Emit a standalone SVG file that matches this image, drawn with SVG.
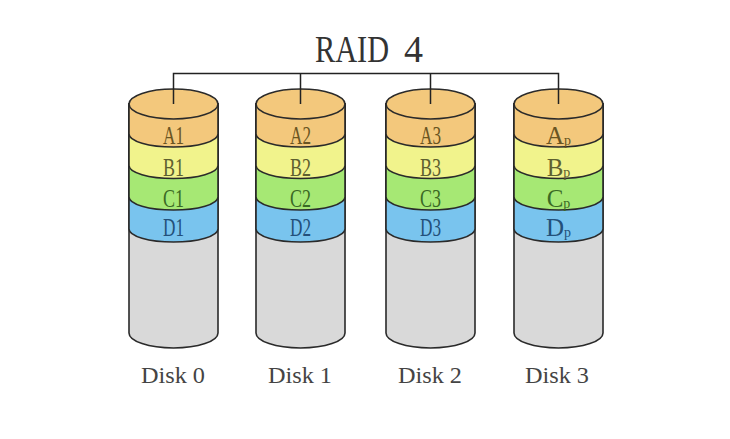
<svg xmlns="http://www.w3.org/2000/svg" width="730" height="439" viewBox="0 0 730 439">
<style>
.edge{fill:none;stroke:#222;stroke-width:1.5}
.sh{stroke:#2a2a2a;stroke-width:1.6;stroke-linejoin:round}
.g{fill:#d9d9d9}.b{fill:#79c4ee}.gr{fill:#a6e874}.y{fill:#f1f38c}.o{fill:#f3c87c}
.lb{font-family:"Liberation Serif","Times New Roman",serif;font-size:25px;text-anchor:middle}
.ta{fill:#6a5522}.tb{fill:#5e6030}.tc{fill:#3b6a24}.td{fill:#23507a}
.dl{font-family:"Liberation Serif","Times New Roman",serif;font-size:24px;fill:#444;text-anchor:middle}
.title{font-family:"Liberation Serif","Times New Roman",serif;font-size:37px;fill:#333}
</style>
<defs>
<g id="cyl">
<path class="sh g" d="M-44.5,104 L-44.5,333 A44.5 15 0 0 0 44.5,333 L44.5,104 Z"/>
<path class="sh b" d="M-44.5,104 L-44.5,229 A44.5 13 0 0 0 44.5,229 L44.5,104 Z"/>
<path class="sh gr" d="M-44.5,104 L-44.5,197 A44.5 13 0 0 0 44.5,197 L44.5,104 Z"/>
<path class="sh y" d="M-44.5,104 L-44.5,165.5 A44.5 13 0 0 0 44.5,165.5 L44.5,104 Z"/>
<path class="sh o" d="M-44.5,104 L-44.5,134 A44.5 13 0 0 0 44.5,134 L44.5,104 Z"/>
<ellipse class="sh o" cx="0" cy="104" rx="44.5" ry="15"/>
</g>
</defs>
<rect width="730" height="439" fill="#fff"/>
<text class="title" y="62"><tspan x="315" textLength="74" lengthAdjust="spacingAndGlyphs">RAID</tspan><tspan x="404" textLength="19" lengthAdjust="spacingAndGlyphs">4</tspan></text>
<g id="disk0">
<use href="#cyl" x="173.5"/>
<text class="lb ta" x="173.5" y="144" textLength="21" lengthAdjust="spacingAndGlyphs">A1</text>
<text class="lb tb" x="173.5" y="176" textLength="21" lengthAdjust="spacingAndGlyphs">B1</text>
<text class="lb tc" x="173.5" y="207" textLength="21" lengthAdjust="spacingAndGlyphs">C1</text>
<text class="lb td" x="173.5" y="236" textLength="21" lengthAdjust="spacingAndGlyphs">D1</text>
<text class="dl" x="173" y="383" textLength="64" lengthAdjust="spacingAndGlyphs">Disk 0</text>
</g>
<g id="disk1">
<use href="#cyl" x="300.5"/>
<text class="lb ta" x="300.5" y="144" textLength="21" lengthAdjust="spacingAndGlyphs">A2</text>
<text class="lb tb" x="300.5" y="176" textLength="21" lengthAdjust="spacingAndGlyphs">B2</text>
<text class="lb tc" x="300.5" y="207" textLength="21" lengthAdjust="spacingAndGlyphs">C2</text>
<text class="lb td" x="300.5" y="236" textLength="21" lengthAdjust="spacingAndGlyphs">D2</text>
<text class="dl" x="300" y="383" textLength="64" lengthAdjust="spacingAndGlyphs">Disk 1</text>
</g>
<g id="disk2">
<use href="#cyl" x="430.5"/>
<text class="lb ta" x="430.5" y="144" textLength="21" lengthAdjust="spacingAndGlyphs">A3</text>
<text class="lb tb" x="430.5" y="176" textLength="21" lengthAdjust="spacingAndGlyphs">B3</text>
<text class="lb tc" x="430.5" y="207" textLength="21" lengthAdjust="spacingAndGlyphs">C3</text>
<text class="lb td" x="430.5" y="236" textLength="21" lengthAdjust="spacingAndGlyphs">D3</text>
<text class="dl" x="430" y="383" textLength="64" lengthAdjust="spacingAndGlyphs">Disk 2</text>
</g>
<g id="disk3">
<use href="#cyl" x="558.5"/>
<text class="lb ta" x="558.5" y="144">A<tspan font-size="14" dy="1">p</tspan></text>
<text class="lb tb" x="558.5" y="176">B<tspan font-size="14" dy="1">p</tspan></text>
<text class="lb tc" x="558.5" y="207">C<tspan font-size="14" dy="1">p</tspan></text>
<text class="lb td" x="558.5" y="236">D<tspan font-size="14" dy="1">p</tspan></text>
<text class="dl" x="557" y="383" textLength="64" lengthAdjust="spacingAndGlyphs">Disk 3</text>
</g>
<g id="connectors">
<path class="edge" d="M173.5,104 V73.5 H558.5 V104 M300.5,73.5 V104 M430.5,73.5 V104"/>
</g>
</svg>
